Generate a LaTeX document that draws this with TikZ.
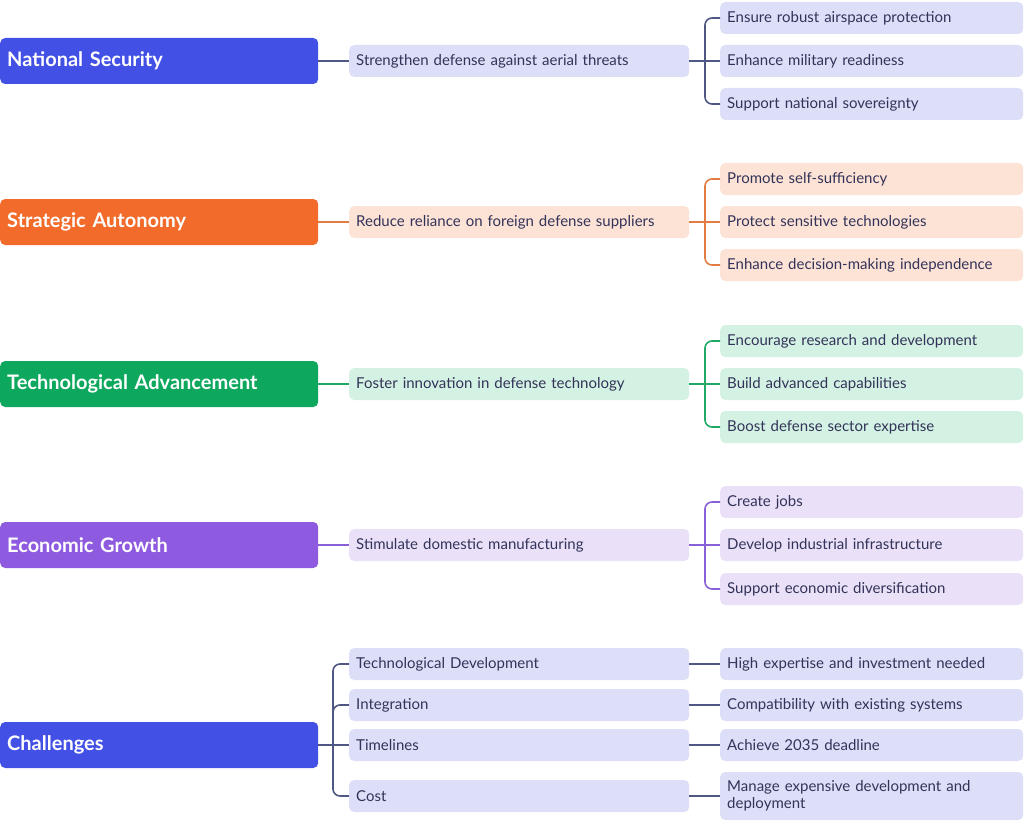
\documentclass[tikz,border=0pt]{standalone}
\usepackage{fontspec}
\setmainfont{Lato}
\begin{document}
\begin{tikzpicture}[x=1pt,y=-1pt,
 base/.style={rounded corners=5pt, anchor=west, inner xsep=7pt, inner ysep=0pt, align=left, font=\fontsize{15}{17}\selectfont, text=black!75!blue!60!gray},
 root/.style={base, text width=304pt, minimum height=46pt, text=white, font=\fontsize{20}{22}\selectfont\bfseries},
 mid/.style={base, text width=326pt, minimum height=32pt},
 leaf/.style={base, text width=289pt, minimum height=32pt},
 conn/.style={line width=1.6pt, rounded corners=7pt}]
\useasboundingbox (0,0) rectangle (1024,829);
\definecolor{cB}{HTML}{4350E6}\definecolor{fB}{HTML}{DDDFF8}\definecolor{lB}{HTML}{4F5782}
\definecolor{cO}{HTML}{F26B2A}\definecolor{fO}{HTML}{FDE3D6}\definecolor{lO}{HTML}{E27C40}
\definecolor{cG}{HTML}{0DA85E}\definecolor{fG}{HTML}{D4F2E3}\definecolor{lG}{HTML}{1FA866}
\definecolor{cP}{HTML}{8E5BE0}\definecolor{fP}{HTML}{EAE1F9}\definecolor{lP}{HTML}{8A60D6}
\newcommand{\grp}[9]{% id, y, root color, fill, line, root text, mid text, leaf1, leaf2
 \node[root, fill=#3] (#1r) at (0,#2) {#6};
 \node[mid, fill=#4] (#1m) at (349,#2) {#7};
 \coordinate (#1t) at (705,#2);
 \node[leaf, fill=#4] (#1a) at (720,#2-43) {#8};
 \node[leaf, fill=#4] (#1b) at (720,#2) {#9};
 \draw[conn,#5] (#1r.east) -- (#1m.west);
 \draw[conn,#5] (#1m.east) -- (#1t);
 \draw[conn,#5] (#1t) |- (#1a.west);
 \draw[conn,#5] (#1t) -- (#1b.west);
}
\grp{n}{61}{cB}{fB}{lB}{National Security}{Strengthen defense against aerial threats}{Ensure robust airspace protection}{Enhance military readiness}
\node[leaf, fill=fB] (nc) at (720,104) {Support national sovereignty};
\draw[conn,lB] (nt) |- (nc.west);
\grp{s}{222}{cO}{fO}{lO}{Strategic Autonomy}{Reduce reliance on foreign defense suppliers}{Promote self-sufficiency}{Protect sensitive technologies}
\node[leaf, fill=fO] (sc) at (720,265) {Enhance decision-making independence};
\draw[conn,lO] (st) |- (sc.west);
\grp{t}{384}{cG}{fG}{lG}{Technological Advancement}{Foster innovation in defense technology}{Encourage research and development}{Build advanced capabilities}
\node[leaf, fill=fG] (tc) at (720,427) {Boost defense sector expertise};
\draw[conn,lG] (tt) |- (tc.west);
\grp{e}{545}{cP}{fP}{lP}{Economic Growth}{Stimulate domestic manufacturing}{Create jobs}{Develop industrial infrastructure}
\node[leaf, fill=fP] (ec) at (720,589) {Support economic diversification};
\draw[conn,lP] (et) |- (ec.west);
% Challenges
\node[root, fill=cB] (cr) at (0,745) {Challenges};
\coordinate (ct) at (333,745);
\node[mid, fill=fB] (c1) at (349,664) {Technological Development};
\node[mid, fill=fB] (c2) at (349,705) {Integration};
\node[mid, fill=fB] (c3) at (349,745) {Timelines};
\node[mid, fill=fB] (c4) at (349,796) {Cost};
\node[leaf, fill=fB] (d1) at (720,664) {High expertise and investment needed};
\node[leaf, fill=fB] (d2) at (720,705) {Compatibility with existing systems};
\node[leaf, fill=fB] (d3) at (720,745) {Achieve 2035 deadline};
\node[leaf, fill=fB, minimum height=48pt] (d4) at (720,796) {Manage expensive development and\\deployment};
\draw[conn,lB] (cr.east) -- (c3.west);
\draw[conn,lB] (ct) |- (c1.west);
\draw[conn,lB] (ct) |- (c2.west);
\draw[conn,lB] (ct) |- (c4.west);
\foreach \i in {1,...,4}{\draw[conn,lB] (c\i.east) -- (d\i.west);}
\end{tikzpicture}
\end{document}
